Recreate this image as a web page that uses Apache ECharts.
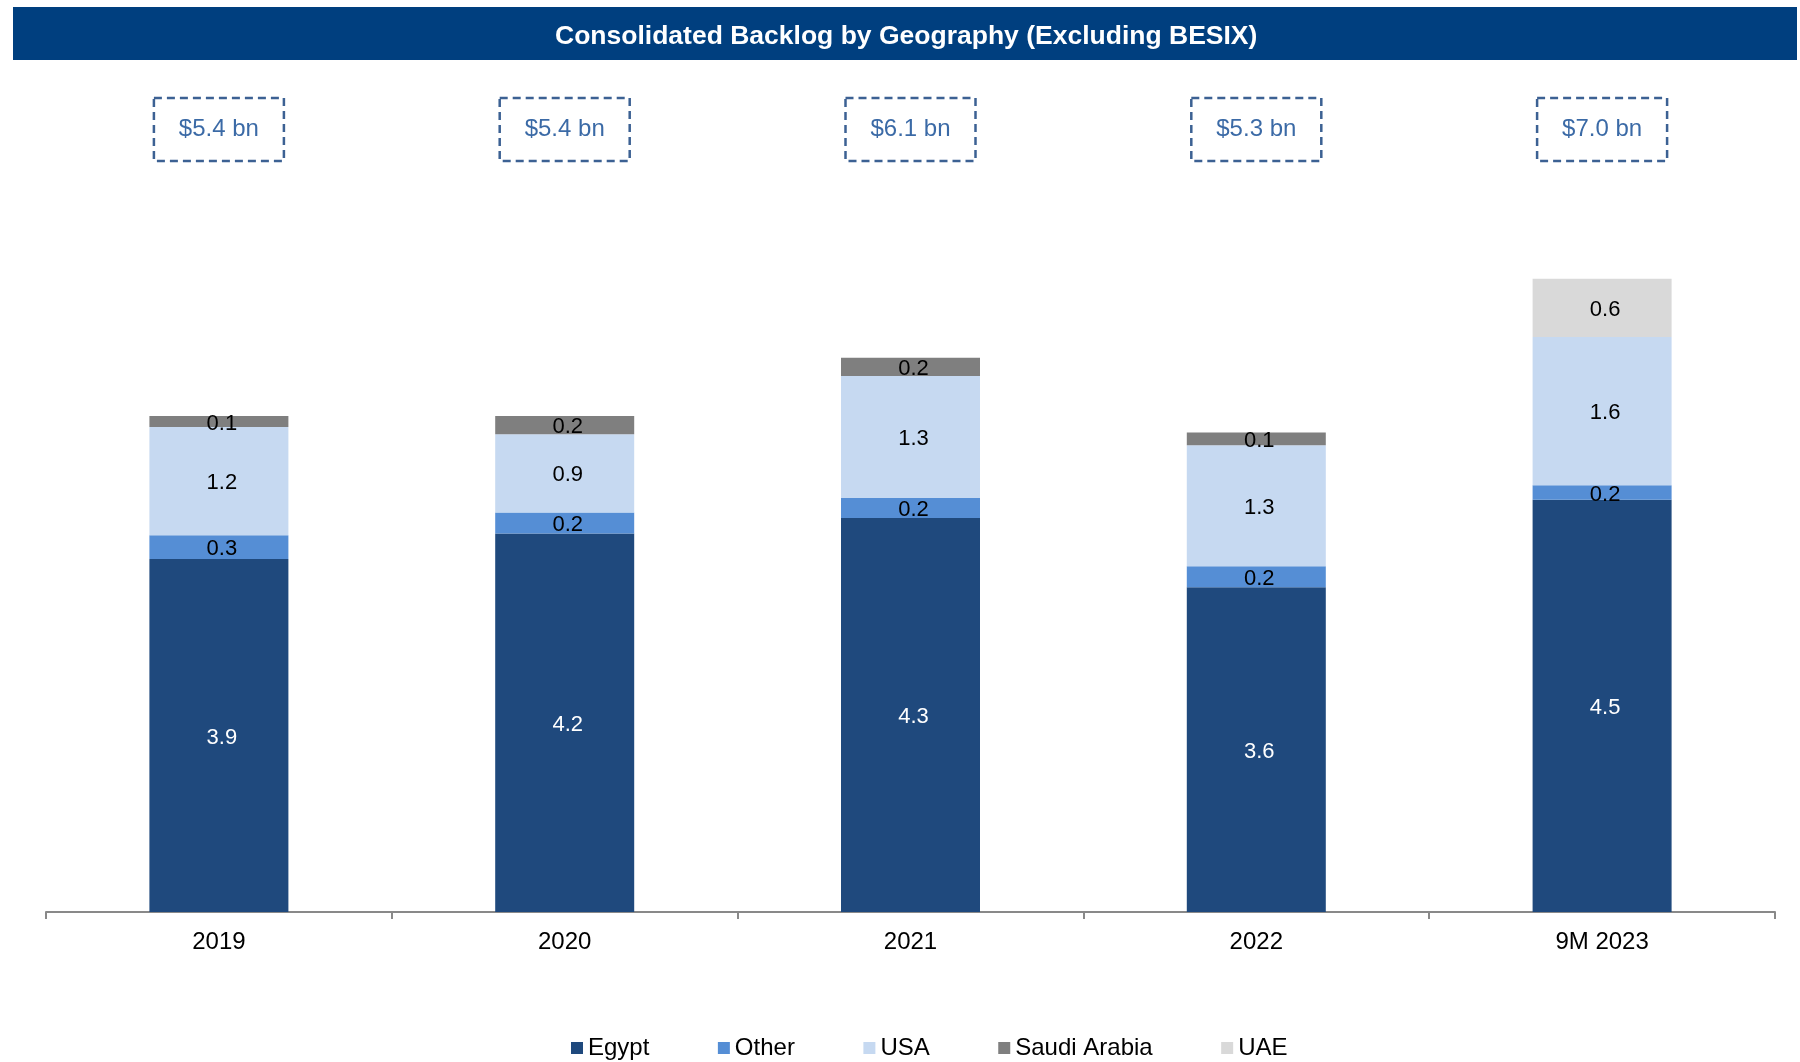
<!DOCTYPE html>
<html>
<head>
<meta charset="utf-8">
<title>Consolidated Backlog by Geography</title>
<script src="https://cdn.jsdelivr.net/npm/echarts@6/dist/echarts.min.js"></script>
<style>
  html, body { margin: 0; padding: 0; background: #fff; }
  #chart { width: 1800px; height: 1062px; }
</style>
</head>
<body>
<div id="chart"></div>
<script>
// data (USD bn)
var categories = ['2019', '2020', '2021', '2022', '9M 2023'];
var egypt = [3.88, 4.16, 4.33, 3.57, 4.53];
var other = [0.26, 0.23, 0.22, 0.23, 0.16];
var usa = [1.19, 0.86, 1.34, 1.33, 1.63];
var saudi = [0.12, 0.20, 0.20, 0.14, null];
var uae = [null, null, null, null, 0.64];
var totals = [5.4, 5.4, 6.1, 5.3, 7.0];

var FONT = 'Arial, "Liberation Sans", sans-serif';
var BOX_Y = 8.60; // height of the dashed total boxes, in axis units

function segment(name, values, color, labelColor) {
  return {
    name: name,
    type: 'bar',
    stack: 'backlog',
    barWidth: 139,
    data: values,
    itemStyle: { color: color },
    label: {
      show: true,
      position: 'inside',
      offset: [3, 2],
      color: labelColor,
      fontFamily: FONT,
      fontSize: 22,
      formatter: function (p) {
        return p.value == null ? '' : p.value.toFixed(1);
      }
    }
  };
}

var myChart = echarts.init(document.getElementById('chart'));

var option = {
  animation: false,
  backgroundColor: '#fff',
  textStyle: { fontFamily: FONT },
  graphic: [
    {
      type: 'rect',
      left: 13,
      top: 7,
      shape: { width: 1784, height: 53 },
      style: { fill: '#003F7F' }
    },
    {
      type: 'text',
      left: 555,
      top: 23,
      style: {
        text: 'Consolidated Backlog by Geography (Excluding BESIX)',
        fill: '#fff',
        font: 'bold 26.5px ' + FONT
      }
    }
  ],
  legend: {
    data: ['Egypt', 'Other', 'USA', 'Saudi Arabia', 'UAE'],
    left: 566,
    top: 1031,
    icon: 'rect',
    itemWidth: 12,
    itemHeight: 12,
    itemGap: 68.5,
    textStyle: { color: '#000', fontSize: 24, fontFamily: FONT }
  },
  grid: {
    left: 46,
    right: 25,
    top: 93,
    bottom: 150
  },
  xAxis: {
    type: 'category',
    data: categories,
    axisLine: { lineStyle: { color: '#898989', width: 2 } },
    axisTick: { show: true, length: 7, lineStyle: { color: '#898989', width: 2 } },
    axisLabel: {
      color: '#000',
      fontSize: 24,
      lineHeight: 24,
      margin: 18,
      fontFamily: FONT
    }
  },
  yAxis: {
    type: 'value',
    min: 0,
    max: 9,
    show: false,
    splitLine: { show: false }
  },
  series: [
    segment('Egypt', egypt, '#1F497D', '#fff'),
    segment('Other', other, '#558ED5', '#000'),
    segment('USA', usa, '#C6D9F1', '#000'),
    segment('Saudi Arabia', saudi, '#7F7F7F', '#000'),
    segment('UAE', uae, '#D9D9D9', '#000'),
    {
      // dashed total boxes above each column
      name: 'Total',
      type: 'scatter',
      symbolSize: 1,
      itemStyle: { color: 'rgba(0,0,0,0)' },
      silent: true,
      data: totals.map(function (t, i) { return [i, BOX_Y, t]; }),
      label: {
        show: true,
        position: 'inside',
        formatter: function (p) { return '$' + p.value[2].toFixed(1) + ' bn'; },
        width: 130,
        height: 60,
        lineHeight: 60,
        padding: [3, 0, 0, 0],
        align: 'center',
        verticalAlign: 'middle',
        color: '#0A4590',
        fontSize: 24,
        fontFamily: FONT,
        borderColor: '#0B3A78',
        borderWidth: 2.5,
        borderType: [8, 5]
      }
    }
  ]
};

myChart.setOption(option);
</script>
</body>
</html>
